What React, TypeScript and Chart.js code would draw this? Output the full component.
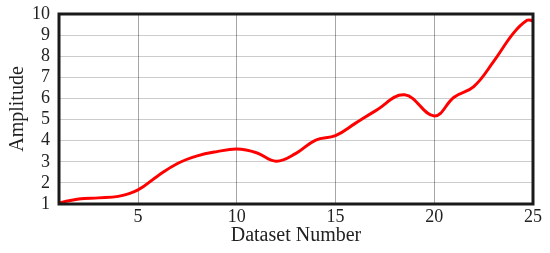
import React, { useEffect, useRef } from "react";
import { Chart, registerables } from "chart.js";

Chart.register(...registerables);

const datasetNumbers = [1, 2, 3, 4, 5, 6, 7, 8, 9, 10, 11, 12, 13, 14, 15, 16, 17, 18.5, 20, 21, 22, 23, 24, 24.7, 25];
const amplitudes = [1.05, 1.24, 1.29, 1.36, 1.67, 2.33, 2.92, 3.28, 3.48, 3.6, 3.43, 3.03, 3.4, 4.03, 4.24, 4.82, 5.4, 6.17, 5.17, 6.06, 6.56, 7.74, 9.08, 9.7, 9.68];
const xTicks = [5, 10, 15, 20, 25];
const yTicks = [1, 2, 3, 4, 5, 6, 7, 8, 9, 10];

const FONT = "'Liberation Serif', 'Times New Roman', serif";

const frame = {
  id: "frame",
  afterDatasetsDraw(chart: any) {
    const { ctx, chartArea } = chart;
    ctx.save();
    ctx.strokeStyle = "#1a1a1a";
    ctx.lineWidth = 3;
    ctx.strokeRect(chartArea.left, chartArea.top, chartArea.right - chartArea.left, chartArea.bottom - chartArea.top);
    ctx.restore();
  },
};

export default function App() {
  const ref = useRef<HTMLCanvasElement | null>(null);
  useEffect(() => {
    if (!ref.current) return;
    const chart = new Chart(ref.current, {
      type: "line",
      data: {
        datasets: [
          {
            data: datasetNumbers.map((x, i) => ({ x, y: amplitudes[i] })),
            borderColor: "#ff0000",
            borderWidth: 3,
            pointRadius: 0,
            tension: 0.4,
            fill: false,
          },
        ],
      },
      options: {
        animation: false,
        responsive: true,
        maintainAspectRatio: false,
        layout: { padding: { top: 14, right: 17, left: 0, bottom: 0 } },
        plugins: { legend: { display: false }, tooltip: { enabled: false } },
        scales: {
          x: {
            type: "linear",
            min: 1,
            max: 25,
            afterBuildTicks: (s: any) => {
              s.ticks = xTicks.map((v) => ({ value: v }));
            },
            afterFit: (s: any) => {
              s.height = 49;
              s.paddingLeft = 0;
              s.paddingRight = 0;
            },
            grid: { color: "rgba(0,0,0,0.35)", lineWidth: 1, drawTicks: false },
            border: { display: false },
            ticks: { color: "#222", font: { family: FONT, size: 18 }, padding: 2, maxRotation: 0, autoSkip: false },
            title: { display: true, text: "Dataset Number", color: "#222", font: { family: FONT, size: 20 }, padding: { top: 0, bottom: 5 } },
          },
          y: {
            type: "linear",
            min: 1,
            max: 10,
            afterBuildTicks: (s: any) => {
              s.ticks = yTicks.map((v) => ({ value: v }));
            },
            afterFit: (s: any) => {
              s.width = 59;
              s.paddingTop = 0;
              s.paddingBottom = 0;
            },
            grid: { color: "rgba(0,0,0,0.2)", lineWidth: 1, drawTicks: false },
            border: { display: false },
            ticks: { color: "#222", font: { family: FONT, size: 18 }, padding: 9, autoSkip: false },
            title: { display: true, text: "Amplitude", color: "#222", font: { family: FONT, size: 20 }, padding: { top: 6, bottom: 0 } },
          },
        },
      },
      plugins: [frame],
    });
    return () => chart.destroy();
  }, []);
  return (
    <div style={{ position: "absolute", left: 0, top: 0, width: 550, height: 253, background: "#fff" }}>
      <canvas ref={ref} />
    </div>
  );
}
